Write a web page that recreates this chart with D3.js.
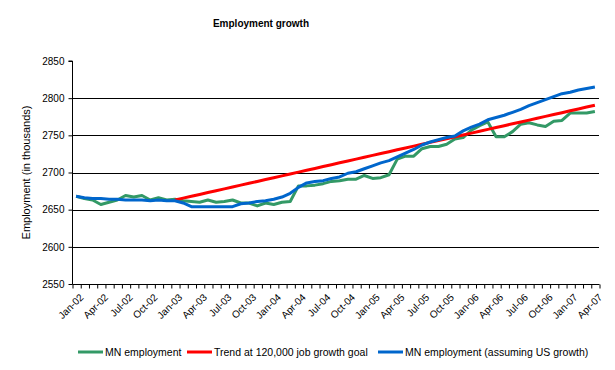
<!DOCTYPE html>
<html lang="en">
<head>
  <meta charset="UTF-8">
  <title>Employment growth</title>
  <style>
    body { margin: 0; background: #fff; }
    text { font-family: Arial, "Liberation Sans", sans-serif; fill: #000; }
  </style>
</head>
<body>
  <svg id="svg" width="615" height="370"></svg>
  <script src="https://cdn.jsdelivr.net/npm/d3@7"></script>
  <script>
    // monthly categories Jan-02 .. Apr-07
    const months = ['Jan-02','Feb-02','Mar-02','Apr-02','May-02','Jun-02','Jul-02','Aug-02','Sep-02','Oct-02','Nov-02','Dec-02',
      'Jan-03','Feb-03','Mar-03','Apr-03','May-03','Jun-03','Jul-03','Aug-03','Sep-03','Oct-03','Nov-03','Dec-03',
      'Jan-04','Feb-04','Mar-04','Apr-04','May-04','Jun-04','Jul-04','Aug-04','Sep-04','Oct-04','Nov-04','Dec-04',
      'Jan-05','Feb-05','Mar-05','Apr-05','May-05','Jun-05','Jul-05','Aug-05','Sep-05','Oct-05','Nov-05','Dec-05',
      'Jan-06','Feb-06','Mar-06','Apr-06','May-06','Jun-06','Jul-06','Aug-06','Sep-06','Oct-06','Nov-06','Dec-06',
      'Jan-07','Feb-07','Mar-07','Apr-07']

    const mnEmployment = [2668, 2665, 2663, 2657, 2660, 2663, 2669, 2667, 2669, 2663, 2666, 2663,
      2664, 2662, 2661, 2660, 2663, 2660, 2661, 2663, 2659, 2659, 2655, 2659,
      2657, 2660, 2661, 2682, 2682, 2683, 2685, 2688, 2689, 2691, 2691, 2696,
      2692, 2693, 2697, 2718, 2722, 2722, 2732, 2735, 2735, 2738, 2745, 2747,
      2757, 2763, 2768, 2748, 2748, 2755, 2765, 2767, 2764, 2762, 2769, 2770,
      2780, 2780, 2780, 2782]

    const trendGoal = [null, null, null, null, null, null, null, null, null, null, null, null,
      2663, 2665.5, 2668, 2670.5, 2673, 2675.5, 2678, 2680.5, 2683, 2685.5, 2688, 2690.5,
      2693, 2695.5, 2698, 2700.5, 2703, 2705.5, 2708, 2710.5, 2713, 2715.5, 2718, 2720.5,
      2723, 2725.5, 2728, 2730.5, 2733, 2735.5, 2738, 2740.5, 2743, 2745.5, 2748, 2750.5,
      2753, 2755.5, 2758, 2760.5, 2763, 2765.5, 2768, 2770.5, 2773, 2775.5, 2778, 2780.5,
      2783, 2785.5, 2788, 2790.5]

    const mnUsGrowth = [2668, 2666, 2665, 2665, 2664, 2664, 2663, 2663, 2663, 2662, 2663, 2662,
      2662, 2659, 2654, 2654, 2654, 2654, 2654, 2654, 2658, 2659, 2661, 2662,
      2664, 2667, 2672, 2680, 2686, 2688, 2689, 2692, 2694, 2699, 2701, 2705,
      2709, 2713, 2716, 2721, 2726, 2731, 2737, 2741, 2744, 2747, 2749, 2756,
      2761, 2765, 2771, 2774, 2777, 2781, 2785, 2790, 2794, 2798, 2802, 2806,
      2808, 2811, 2813, 2815]

    const yTicks = [2550, 2600, 2650, 2700, 2750, 2800, 2850]
    const gridValues = [2600, 2650, 2700, 2750, 2800]

    const series = [
      { name: 'MN employment', values: mnEmployment, color: '#339966' },
      { name: 'Trend at 120,000 job growth goal', values: trendGoal, color: '#ff0000' },
      { name: 'MN employment (assuming US growth)', values: mnUsGrowth, color: '#0066cc' }
    ]

    const plot = { left: 72, right: 599, top: 61, bottom: 284 }
    const svg = d3.select('#svg')

    const x = d3.scaleBand()
      .domain(months)
      .range([plot.left, plot.right])
      .paddingInner(0)
      .paddingOuter(0)
    const cx = m => x(m) + x.bandwidth() / 2

    const y = d3.scaleLinear()
      .domain([2550, 2850])
      .range([plot.bottom, plot.top])

    // title
    svg.append('text')
      .attr('x', 261)
      .attr('y', 27)
      .attr('text-anchor', 'middle')
      .style('font-size', '10px')
      .style('font-weight', 'bold')
      .text('Employment growth')

    // gridlines
    svg.append('g')
      .selectAll('line')
      .data(gridValues)
      .enter()
      .append('line')
      .attr('x1', plot.left)
      .attr('x2', plot.right)
      .attr('y1', d => Math.round(y(d)) + 0.5)
      .attr('y2', d => Math.round(y(d)) + 0.5)
      .attr('stroke', '#000')
      .attr('stroke-width', 1)

    // left axis
    const leftAxis = d3.axisLeft(y)
      .tickValues(yTicks)
      .tickSize(4)
      .tickPadding(4)
      .tickFormat(d3.format('d'))
    const gy = svg.append('g')
      .attr('transform', `translate(${plot.left + 0.5}, 0)`)
      .call(leftAxis)
    gy.select('.domain').attr('d', `M-4,${plot.top}H0V${plot.bottom + 0.5}`).attr('stroke', '#000')
    gy.selectAll('.tick line').attr('stroke', '#000')
    gy.selectAll('.tick text').style('font-size', '10px').style('font-family', 'Arial, "Liberation Sans", sans-serif')

    // bottom axis: ticks at category edges
    const edge = d3.scaleLinear().domain([0, months.length]).range([plot.left, plot.right])
    const bottomAxis = d3.axisBottom(edge)
      .tickValues(d3.range(months.length + 1))
      .tickSize(4)
      .tickFormat('')
    const gx = svg.append('g')
      .attr('transform', `translate(0.5, ${Math.round(plot.bottom) + 0.5})`)
      .call(bottomAxis)
    gx.select('.domain').attr('d', `M${plot.left},0H${plot.right}`).attr('stroke', '#000')
    gx.selectAll('.tick line').attr('stroke', '#000')

    // category labels every 3 months
    svg.append('g')
      .selectAll('text')
      .data(months.filter((m, i) => i % 3 === 0))
      .enter()
      .append('text')
      .attr('transform', d => `translate(${cx(d) + 3}, ${plot.bottom + 9}) rotate(-45)`)
      .attr('text-anchor', 'end')
      .attr('dy', '0.7em')
      .style('font-size', '10px')
      .text(d => d)

    // y axis title
    svg.append('text')
      .attr('transform', `translate(30, ${(plot.top + plot.bottom) / 2}) rotate(-90)`)
      .attr('text-anchor', 'middle')
      .style('font-size', '11px')
      .text('Employment (in thousands)')

    // series lines
    const line = d3.line()
      .defined(d => d.v != null)
      .x(d => cx(d.m))
      .y(d => y(d.v))

    svg.append('g')
      .selectAll('path')
      .data(series)
      .enter()
      .append('path')
      .attr('fill', 'none')
      .attr('stroke', d => d.color)
      .attr('stroke-width', 3)
      .attr('stroke-linejoin', 'round')
      .attr('d', d => line(d.values.map((v, i) => ({ m: months[i], v }))))

    // legend
    const legendX = [78, 187, 378]
    const legend = svg.append('g')
      .selectAll('g')
      .data(series)
      .enter()
      .append('g')
      .attr('transform', (d, i) => `translate(${legendX[i]}, 352)`)
    legend.append('line')
      .attr('x1', 0)
      .attr('x2', 25)
      .attr('stroke', d => d.color)
      .attr('stroke-width', 3)
    legend.append('text')
      .attr('x', 27)
      .attr('y', 4)
      .style('font-size', '10.5px')
      .text(d => d.name)
  </script>
</body>
</html>
